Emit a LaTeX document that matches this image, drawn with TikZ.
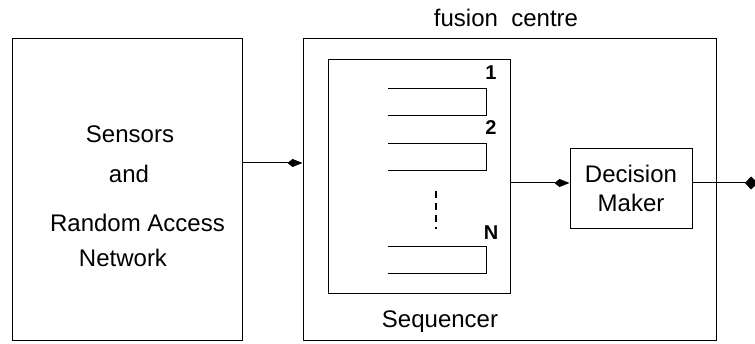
\documentclass[tikz,border=0pt]{standalone}
\usepackage{fontspec}
\setmainfont{Liberation Sans}
\usetikzlibrary{positioning, arrows.meta}

\begin{document}
\begin{tikzpicture}[x=1pt,y=-1pt,
            box/.style={draw,line width=1pt,inner sep=0pt},
            txt/.style={anchor=base,inner sep=0pt,font=\fontsize{24}{29}\selectfont},
            num/.style={anchor=base,inner sep=0pt,font=\fontsize{20}{24}\selectfont\bfseries},
            slot/.style={line width=0.9pt},
            arrow/.style={line width=1pt,-{Kite[length=15pt,width=8pt,inset=5pt]}},
            outarrow/.style={line width=1pt,-{Kite[length=13pt,width=13pt,inset=6pt]}}]
        \useasboundingbox (0,0) rectangle (755,344);
        % outer blocks
        \node[box,minimum width=230pt,minimum height=302pt] (sensors) at (127,190) {};
        \node[box,minimum width=413pt,minimum height=302pt] (fusion) at (509.5,190) {};
        \node[txt] (fusionlbl) at (506,27) {fusion\ \ centre};
        % text of the left block
        \node[txt] (l1) at (130,143) {Sensors};
        \node[txt] (l2) at (129,183) {and};
        \node[txt] (l3) at (137.5,232) {Random Access};
        \node[txt] (l4) at (123,267) {Network};
        % sequencer with its queues
        \node[box,minimum width=182pt,minimum height=234pt] (seq) at (419,177) {};
        \node[txt] (seqlbl) at (440,328) {Sequencer};
        \foreach \top/\lab/\base in {88/1/80, 143/2/135, 246/N/240} {
            \draw[slot] (388,\top) -- (486,\top) -- (486,\top+27) -- (388,\top+27);
            \node[num] at (491,\base) {\lab};
        }
        \draw[line width=1.8pt,dash pattern=on 7pt off 5pt] (436,191) -- (436,229);
        % decision maker
        \node[box,minimum width=122pt,minimum height=80pt] (dm) at (631,189) {};
        \node[txt] (dm1) at (631,183) {Decision};
        \node[txt] (dm2) at (631,212) {Maker};
        % connections
        \coordinate (lvl) at (0,183);
        \coordinate (out) at (758,183);
        \draw[arrow] ([yshift=27pt]sensors.east) -- ([yshift=27pt]fusion.west);
        \draw[arrow] (seq.east |- lvl) -- (dm.west |- lvl);
        \draw[outarrow] (dm.east |- lvl) -- (out);
\end{tikzpicture}
\end{document}
